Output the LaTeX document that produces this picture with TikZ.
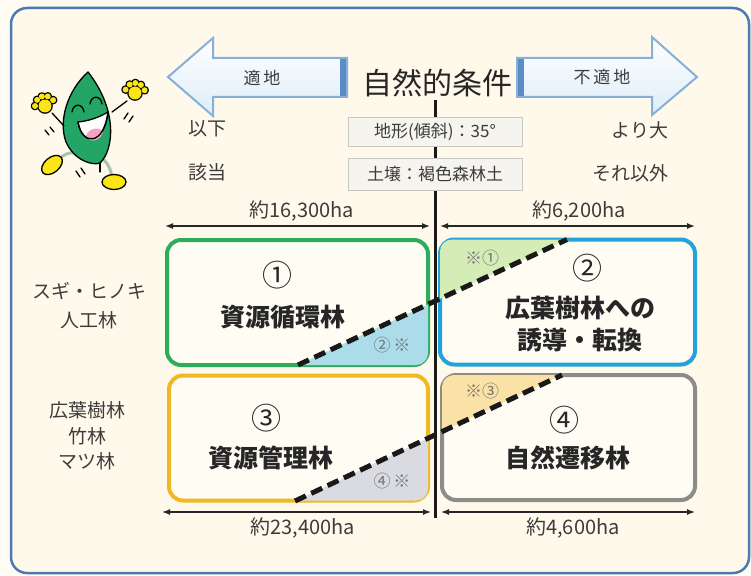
\documentclass[tikz,border=0pt]{standalone}
\usepackage{fontspec}
\setmainfont{Noto Sans CJK JP}
\usetikzlibrary{arrows.meta,positioning,calc}

\definecolor{cream}{HTML}{FEF9EA}
\definecolor{paper}{HTML}{FEFCF2}
\definecolor{framec}{HTML}{4C79B2}
\definecolor{boxin}{HTML}{FFFCF3}
\definecolor{grn}{HTML}{2DAD5B}
\definecolor{blu}{HTML}{23A3D8}
\definecolor{ylw}{HTML}{F0B822}
\definecolor{gry}{HTML}{8E8C88}
\definecolor{tgrn}{HTML}{D6ECB6}
\definecolor{tblu}{HTML}{ACDCE9}
\definecolor{tgry}{HTML}{DADBE0}
\definecolor{tylw}{HTML}{FAE2A6}
\definecolor{ink}{HTML}{3C3C3C}
\definecolor{arwline}{HTML}{86B0DA}
\definecolor{arwfill}{HTML}{DDEDF9}
\definecolor{arwbar}{HTML}{5A8CC6}
\definecolor{condfill}{HTML}{F6F4EE}
\definecolor{condline}{HTML}{C9C7C2}
\definecolor{leaf}{HTML}{22A565}
\definecolor{glove}{HTML}{FBE514}
\definecolor{tongue}{HTML}{F5A3BE}
\definecolor{legc}{HTML}{A6C4AC}

\tikzset{
  area/.style={draw, rounded corners=14pt, line width=4pt, fill=boxin, minimum height=125pt},
  kind/.style={font=\bfseries\fontsize{25}{32}\selectfont, text=black!85, align=center},
  num/.style={font=\fontsize{30}{30}\selectfont, text=black!85},
  note/.style={font=\fontsize{17}{17}\selectfont, text=black!55},
  cond/.style={draw=condline, fill=condfill, line width=.8pt, minimum width=174pt, font=\fontsize{17}{17}\selectfont, text=ink},
  side/.style={font=\fontsize{19}{29}\selectfont, text=ink, align=center},
  ha/.style={font=\fontsize{20}{20}\selectfont, text=ink},
  span/.style={{Latex[length=8pt,width=6pt]}-{Latex[length=8pt,width=6pt]}, line width=1.4pt, black!85},
  cut/.style={dash pattern=on 12pt off 6pt, line width=5pt, black!90},
  bigarrow/.style={draw=arwline, line width=2pt, top color=white, bottom color=arwfill, line join=miter},
}

\begin{document}
\begin{tikzpicture}[x=1pt,y=-1pt]
\useasboundingbox (0,0) rectangle (751,575);
\fill[paper] (0,0) rectangle (751,575);
\draw[framec, line width=2.5pt, fill=cream, rounded corners=16pt] (11,8) rectangle (749,573);

% direction arrows
\draw[bigarrow] (347,58) -- (213,58) -- (213,38) -- (168,77) -- (213,116) -- (213,97) -- (347,97) -- cycle;
\fill[arwbar] (340,59) rectangle (346,96);
\draw[bigarrow] (517,58) -- (652,58) -- (652,37) -- (697,77) -- (652,115) -- (652,97) -- (517,97) -- cycle;
\fill[arwbar] (518,59) rectangle (524,96);
\node[note, text=ink] (good) at (262,78) {適\,地};
\node[note, text=ink] (bad) at (602,77) {不\,適\,地};

\node[font=\fontsize{30}{30}\selectfont, text=black!85] (title) at (437,83) {自然的条件};
\coordinate (axis) at (435,518);
\draw[line width=3pt, black!90] (title.south -| axis) -- (axis);

\node[cond, minimum height=29pt] (slope) at (435,132) {地形(傾斜)：35°};
\node[cond, minimum height=32pt] (soil) at (435,174) {土壌：褐色森林土};

\node[side] (lo) at (207,129) {以下};
\node[side] (hit) at (207,172) {該当};
\node[side] (hi) at (640,130) {より大};
\node[side] (other) at (630,173) {それ以外};

% widths
\coordinate (tl) at (165,226); \coordinate (tm) at (430,226);
\coordinate (tn) at (440,226); \coordinate (tr) at (695,226);
\coordinate (bl) at (162,512); \coordinate (bm) at (431,512);
\coordinate (bn) at (441,512); \coordinate (br) at (695,512);
\draw[span] (tl) -- (tm);
\draw[span] (tn) -- (tr);
\draw[span] (bl) -- (bm);
\draw[span] (bn) -- (br);
\node[ha] (a1) at (302,211) {約16,300ha};
\node[ha] (a2) at (579,211) {約6,200ha};
\node[ha] (a3) at (303,528) {約23,400ha};
\node[ha] (a4) at (573,528) {約4,600ha};

\node[side] (sugi) at (89,306) {スギ・ヒノキ\\人工林};
\node[side, font=\fontsize{19}{25.5}\selectfont] (broad) at (87,436) {広葉樹林\\竹林\\マツ林};

% forest types
\node[area, draw=grn, minimum width=261pt] (b1) at (297.5,302.5) {};
\node[area, draw=blu, minimum width=255pt] (b2) at (567.5,302) {};
\node[area, draw=ylw, minimum width=259pt] (b3) at (298.5,438) {};
\node[area, draw=gry, minimum width=253pt] (b4) at (568.5,437.5) {};

\coordinate (c1) at (298,365); \coordinate (c2) at (567,239.5);
\coordinate (c3) at (295,501); \coordinate (c4) at (562,375);
\coordinate (s1) at (c2 |- c1); \coordinate (s2) at (c1 |- c2);
\coordinate (s3) at (c4 |- c3); \coordinate (s4) at (c3 |- c4);

\foreach \b/\c/\u/\v/\w in {b1/tblu/c1/c2/s1, b2/tgrn/c1/c2/s2, b3/tgry/c3/c4/s3, b4/tylw/c3/c4/s4} {
  \begin{scope}
    \clip[rounded corners=12pt] ($(\b.south west)+(2,-2)$) rectangle ($(\b.north east)+(-2,2)$);
    \fill[\c] (\u) -- (\v) -- (\w) -- cycle;
  \end{scope}
}
\draw[cut] (c1) -- (c2);
\draw[cut] (c3) -- (c4);

\node[num] (n1) at (277,275) {①};
\node[kind] (k1) at (283,317) {資源循環林};
\node[num] (n2) at (587,268) {②};
\node[kind] (k2) at (580,324) {広葉樹林への\\誘導・転換};
\node[num] (n3) at (266,418) {③};
\node[kind] (k3) at (271,458) {資源管理林};
\node[num] (n4) at (564,420) {④};
\node[kind] (k4) at (568,458) {自然遷移林};

\node[note] (m1) at (392,345) {②\,※};
\node[note] (m2) at (482,258) {※①};
\node[note] (m3) at (392,481) {④\,※};
\node[note] (m4) at (482,391) {※③};

% leaf mascot
\begin{scope}[line width=1.3pt, line join=round, line cap=round]
  \draw[legc, line width=3pt] (82,155) .. controls (72,150) and (64,154) .. (58,160);
  \draw[legc, line width=3pt] (104,160) .. controls (110,166) and (111,172) .. (112,177);
  \filldraw[fill=glove, rotate around={40:(52,165)}] (52,165) ellipse (12 and 7.5);
  \filldraw[fill=glove] (114,182) ellipse (12 and 7.5);
  \filldraw[fill=leaf] (88,72) .. controls (68,90) and (58,120) .. (66,142) .. controls (74,160) and (92,166) .. (100,163) .. controls (114,150) and (118,110) .. (88,72) -- cycle;
  \draw (100,163) -- (100,172);
  \draw (64,126) -- (52,113);
  \draw (112,112) -- (127,101);
  \foreach \hx/\hy/\t in {45/106/-10, 135/93/10} {
    \foreach \a in {190,228,262,296,334} \filldraw[line width=2.6pt] (\hx,\hy) ++(\a+\t:10) circle (3);
    \filldraw[line width=2.6pt] (\hx,\hy) circle (6.5);
    \foreach \a in {190,228,262,296,334} \fill[glove] (\hx,\hy) ++(\a+\t:10) circle (3);
    \fill[glove] (\hx,\hy) circle (6.5);
  }
  \draw (72,112) .. controls (73,103) and (83,103) .. (84,112);
  \draw (90,104) .. controls (91,95) and (101,95) .. (102,104);
  \filldraw[fill=white] (78,122) .. controls (82,146) and (104,146) .. (108,112) .. controls (98,118) and (88,121) .. (78,122) -- cycle;
  \fill[tongue] (86,136) .. controls (88,128) and (100,126) .. (103,132) .. controls (100,142) and (90,143) .. (86,136) -- cycle;
  \draw (78,122) .. controls (82,146) and (104,146) .. (108,112);
  \draw (50,127) -- (54,132) (45,130) -- (49,135);
  \draw (124,119) -- (128,113) (129,122) -- (133,116);
  \draw (76,171) -- (80,177) (81,168) -- (85,174);
\end{scope}
\end{tikzpicture}
\end{document}
